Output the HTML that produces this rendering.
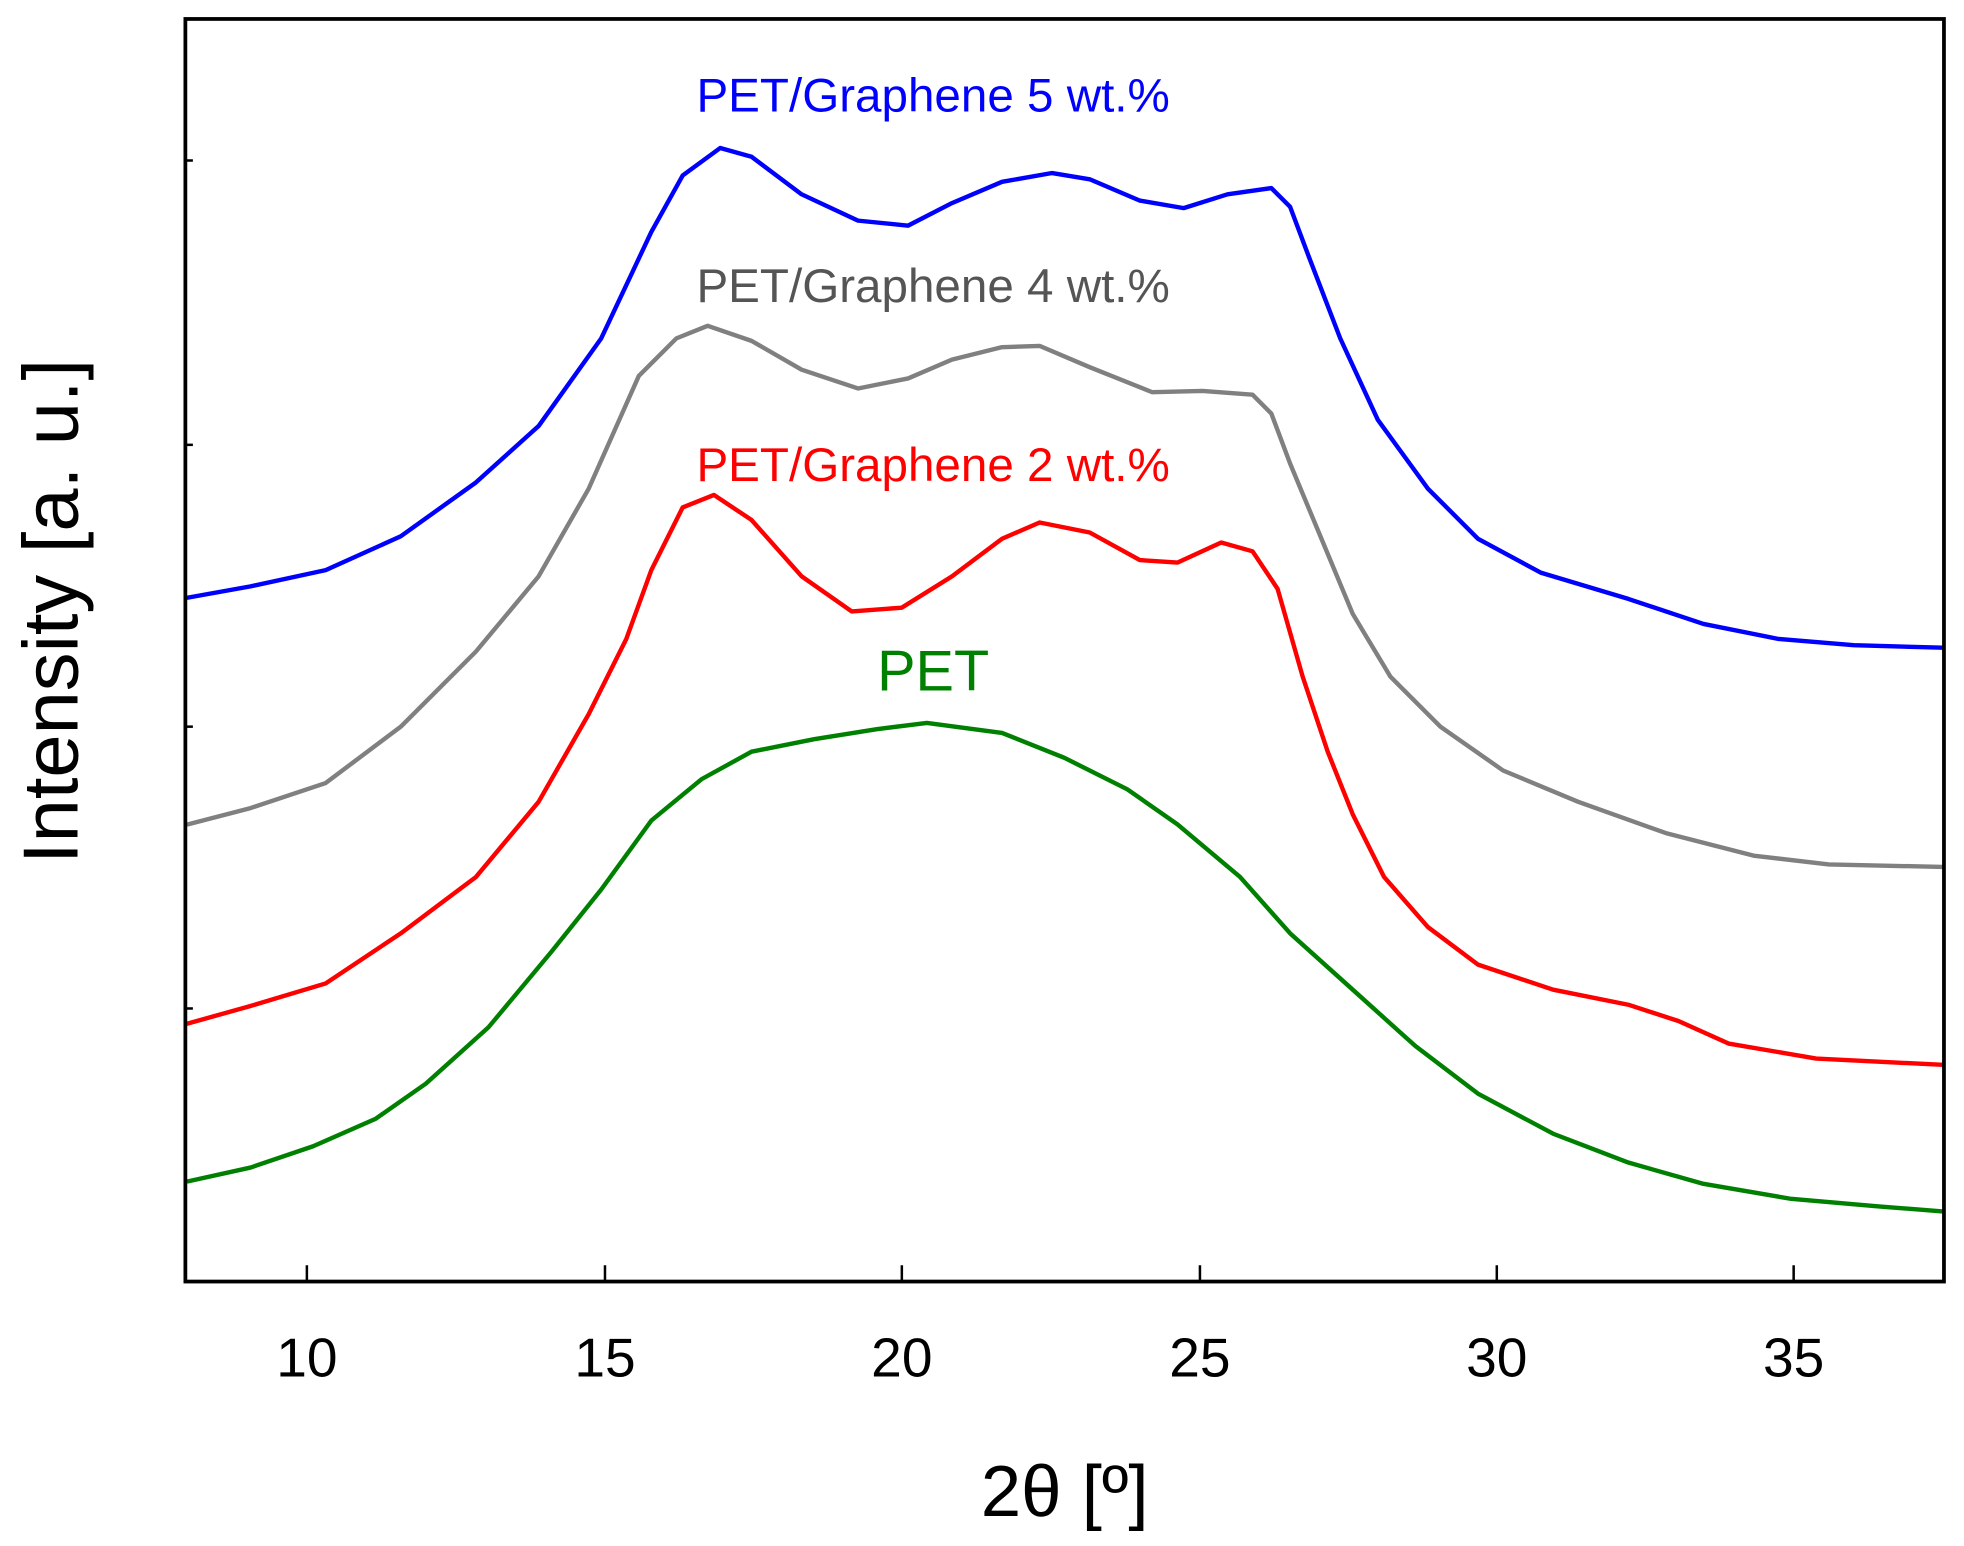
<!DOCTYPE html>
<html><head><meta charset="utf-8"><style>html,body{margin:0;padding:0;background:#fff}svg{display:block}</style></head>
<body>
<svg width="1964" height="1546" viewBox="0 0 1568 1234" xmlns="http://www.w3.org/2000/svg" font-family="Liberation Sans, Arial, sans-serif">
<rect width="1568" height="1234" fill="#fff"/>
<g fill="none" stroke-width="3.5" stroke-linejoin="round" stroke-linecap="round">
<polyline stroke="#0000ff" points="150,477 200,468 260,455 320,428 380,385 430,340 480,270 520,185 545,140 575,118 600,125 640,155 685,176 725,180 760,162 800,145 840,138 870,143 910,160 945,166 980,155 1015,150 1030,165 1045,205 1070,270 1100,335 1140,390 1180,430 1230,457 1300,478 1360,498 1420,510 1480,515 1551,517"/>
<polyline stroke="#808080" points="150,658 200,645 260,625 320,580 380,520 430,460 470,390 510,300 540,270 565,260 600,272 640,295 685,310 725,302 760,287 800,277 830,276 870,293 920,313 960,312 1000,315 1015,330 1030,370 1055,430 1080,490 1110,540 1150,580 1200,615 1260,640 1330,665 1400,683 1460,690 1551,692"/>
<polyline stroke="#ff0000" points="150,817 200,803 260,785 320,745 380,700 430,640 470,570 500,510 520,455 545,405 570,395 600,415 640,460 680,488 720,485 760,460 800,430 830,417 870,425 910,447 940,449 975,433 1000,440 1020,470 1040,540 1060,600 1080,650 1105,700 1140,740 1180,770 1240,790 1300,802 1340,815 1380,833 1450,845 1551,850"/>
<polyline stroke="#008000" points="150,943 200,932 250,915 300,893 340,865 390,820 440,760 480,710 520,655 560,622 600,600 650,590 700,582 740,577 800,585 850,605 900,630 940,658 990,700 1030,745 1080,790 1130,835 1180,873 1240,905 1300,928 1360,945 1430,957 1500,963 1551,967"/>
</g>
<rect x="148" y="15" width="1404" height="1008" fill="none" stroke="#000" stroke-width="3"/>
<g stroke="#000" stroke-width="2">
<line x1="245" y1="1023" x2="245" y2="1010"/><line x1="483" y1="1023" x2="483" y2="1010"/><line x1="720" y1="1023" x2="720" y2="1010"/><line x1="958" y1="1023" x2="958" y2="1010"/><line x1="1195" y1="1023" x2="1195" y2="1010"/><line x1="1432" y1="1023" x2="1432" y2="1010"/>
<line x1="148" y1="128" x2="154" y2="128"/><line x1="148" y1="355" x2="154" y2="355"/><line x1="148" y1="580" x2="154" y2="580"/><line x1="148" y1="805" x2="154" y2="805"/>
</g>
<g font-size="44" text-anchor="middle" fill="#000">
<text x="245" y="1099">10</text><text x="483" y="1099">15</text><text x="720" y="1099">20</text><text x="958" y="1099">25</text><text x="1195" y="1099">30</text><text x="1432" y="1099">35</text>
</g>
<text x="850" y="1210" font-size="58" text-anchor="middle">2θ [º]</text>
<text transform="translate(62,488) rotate(-90)" font-size="62" text-anchor="middle">Intensity [a. u.]</text>
<g font-size="38" text-anchor="middle">
<text x="745" y="89" fill="#0000ff">PET/Graphene 5 wt.%</text>
<text x="745" y="241" fill="#555">PET/Graphene 4 wt.%</text>
<text x="745" y="384" fill="#ff0000">PET/Graphene 2 wt.%</text>
<text x="745" y="551" fill="#008000" font-size="46">PET</text>
</g>
</svg>
</body></html>
